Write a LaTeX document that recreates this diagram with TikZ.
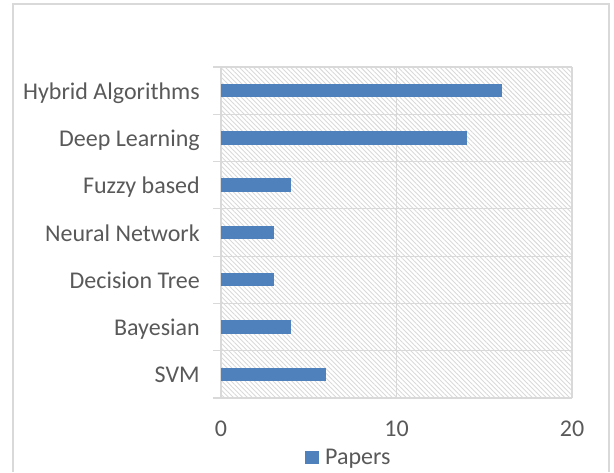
\documentclass[tikz,border=0pt]{standalone}
\usepackage{fontspec}
\setmainfont{Carlito}
\usetikzlibrary{patterns.meta}
\definecolor{barblue}{HTML}{4F81BD}
\definecolor{gridgray}{HTML}{D9D9D9}
\definecolor{textgray}{HTML}{595959}
\tikzset{
  catlabel/.style={anchor=base east, inner sep=0pt, text=textgray, yshift=-8.6pt},
  ticklabel/.style={anchor=base, inner sep=0pt, text=textgray},
  paperbar/.style={fill=barblue},
}
\begin{document}
\begin{tikzpicture}[x=1pt, y=1pt, font=\fontsize{24}{28}\selectfont]
    \useasboundingbox (0,0) rectangle (614,472);
    % Chart frame
    \draw[gridgray, line width=1.5pt] (13,0) -- (13,468) -- (609,468) -- (609,0);
    \begin{scope}[shift={(221,74)}, x=17.55pt, y=47.29pt]
        % Plot area
        \fill[pattern={Lines[angle=-45, distance=3.3pt, line width=0.9pt]}, pattern color=gridgray] (0,0) rectangle (20,7);
        \draw[gridgray, line width=1.2pt, xstep=10, ystep=1] (-0.456,0) grid (20,7);
        % Bars
        \fill[paperbar] (0,6.358) rectangle (16,6.642);
        \fill[paperbar] (0,5.358) rectangle (14,5.642);
        \fill[paperbar] (0,4.358) rectangle (4,4.642);
        \fill[paperbar] (0,3.358) rectangle (3,3.642);
        \fill[paperbar] (0,2.358) rectangle (3,2.642);
        \fill[paperbar] (0,1.358) rectangle (4,1.642);
        \fill[paperbar] (0,0.358) rectangle (6,0.642);
        % Categories
        \node[catlabel] (hybrid) at (-1.2,6.5) {Hybrid Algorithms};
        \node[catlabel] (deep) at (-1.2,5.5) {Deep Learning};
        \node[catlabel] (fuzzy) at (-1.2,4.5) {Fuzzy based};
        \node[catlabel] (neural) at (-1.2,3.5) {Neural Network};
        \node[catlabel] (tree) at (-1.2,2.5) {Decision Tree};
        \node[catlabel] (bayes) at (-1.2,1.5) {Bayesian};
        \node[catlabel] (svm) at (-1.2,0.5) {SVM};
        % Axis values
        \node[ticklabel] (tick0) at (0,-0.818) {0};
        \node[ticklabel] (tick10) at (10,-0.818) {10};
        \node[ticklabel] (tick20) at (20,-0.818) {20};
    \end{scope}
    % Legend
    \node[fill=barblue, inner sep=0pt, minimum size=13.5pt] (key) at (312,14.5) {};
    \node[anchor=base west, inner sep=0pt, text=textgray] (papers) at ([xshift=6pt]key.south east) {Papers};
\end{tikzpicture}
\end{document}
